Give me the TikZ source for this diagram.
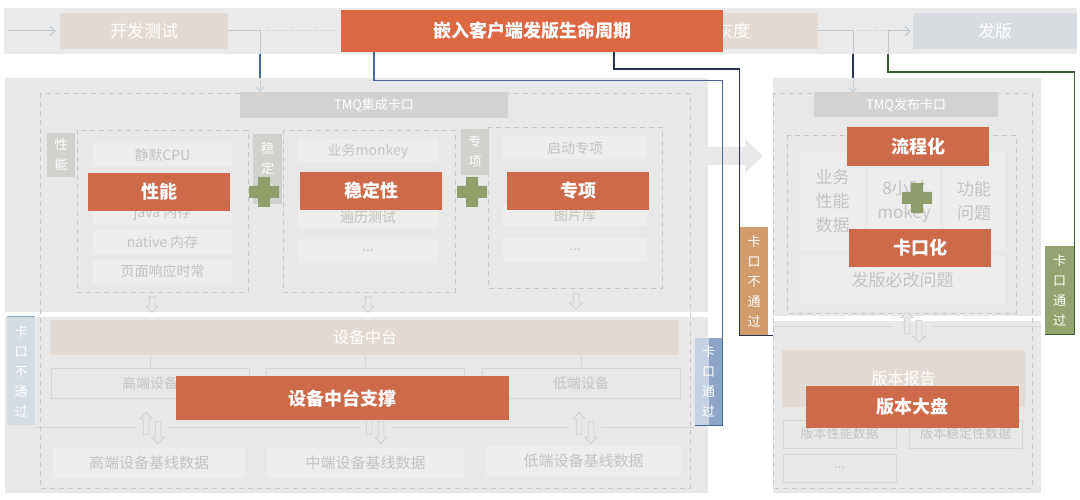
\documentclass[tikz,border=0pt]{standalone}
\usepackage{fontspec}
\setmainfont{Noto Sans CJK SC}
\usetikzlibrary{arrows.meta,shapes.arrows}
\definecolor{naranja}{RGB}{219,104,66}
\definecolor{naranjab}{RGB}{205,106,74}
\definecolor{banda}{RGB}{234,234,234}
\definecolor{panel}{RGB}{232,232,232}
\definecolor{beige}{RGB}{226,218,211}
\definecolor{azulgris}{RGB}{217,220,225}
\definecolor{etiqgris}{RGB}{210,209,206}
\definecolor{tmqgris}{RGB}{211,210,208}
\definecolor{itemgris}{RGB}{237,237,237}
\definecolor{textogris}{RGB}{196,196,196}
\definecolor{dashgris}{RGB}{200,200,200}
\definecolor{bordegris}{RGB}{214,214,214}
\definecolor{flechagris}{RGB}{205,205,205}
\definecolor{verdecruz}{RGB}{143,158,106}
\definecolor{tan}{RGB}{209,155,108}
\definecolor{verdeetiq}{RGB}{148,163,112}
\definecolor{azuletiq}{RGB}{141,165,199}
\definecolor{azulclaro}{RGB}{214,220,227}
\definecolor{azullinea}{RGB}{74,104,150}
\definecolor{marino}{RGB}{40,52,78}
\definecolor{verdelinea}{RGB}{62,92,48}
\definecolor{grislinea}{RGB}{190,198,208}

\begin{document}
\begin{tikzpicture}[x=1pt, y=-1pt,
	caja/.style={rectangle, inner sep=0pt, text=white},
	resalte/.style={caja, fill=naranjab, font=\fontsize{18}{20}\selectfont\bfseries},
	etiqueta/.style={caja, align=center, font=\fontsize{13}{20}\selectfont},
	elemento/.style={caja, fill=itemgris, text=textogris, font=\fontsize{14}{16}\selectfont, minimum height=23},
	marco/.style={draw=dashgris, dash pattern=on 5pt off 4pt, line width=0.8pt},
	flechita/.style={single arrow, draw=flechagris, fill=panel, inner sep=2.5pt, single arrow head extend=3.5pt, minimum height=16, line width=0.6pt},
	lineagris/.style={draw=grislinea, line width=1pt},
	lineaclara/.style={draw=grislinea!80!white, line width=1pt},
	lineaazul/.style={draw=azullinea, line width=1.1pt},
	lineamarino/.style={draw=marino, line width=1.3pt},
	lineaverde/.style={draw=verdelinea, line width=1.1pt},
	lineafina/.style={draw=bordegris, line width=0.8pt},
	cruz/.style={fill=verdecruz}]
		% Fondo
		\fill[white] (0,0) rectangle (1080,500);
		\useasboundingbox (0,0) rectangle (1080,500);
		
		% Banda superior
		\fill[banda] (4,8) rectangle (1077,54);
		\node[caja, fill=beige, minimum width=168, minimum height=36, font=\fontsize{17}{20}\selectfont] (kaifa) at (144,31) {开发测试};
		\node[caja, fill=beige, minimum width=170, minimum height=36, font=\fontsize{17}{20}\selectfont] (huidu) at (733,31) {灰度};
		\node[caja, fill=azulgris, minimum width=164, minimum height=36, font=\fontsize{17}{20}\selectfont] (faban) at (995,31) {发版};
		\node[caja, fill=naranja, minimum width=382, minimum height=42, font=\fontsize{18}{20}\selectfont\bfseries] (ciclo) at (532,31) {嵌入客户端发版生命周期};
		
		\coordinate (inicio) at (8,31);
		\coordinate (cA) at (260,31);
		\coordinate (cB) at (853,31);
		\coordinate (cC) at (888,31);
		\coordinate (nA) at (614,52);
		\draw[lineagris, -{Straight Barb[length=5pt,width=9pt]}, shorten >=4pt] (inicio) -- (kaifa.west);
		\draw[lineagris] (kaifa.east) -- (cA);
		\draw[lineagris, dotted] (cA) -- (ciclo.west);
		\draw[lineagris] (huidu.east) -- (cB);
		\draw[lineagris, dotted] (cB) -- (cC);
		\draw[lineagris, -{Straight Barb[length=5pt,width=9pt]}, shorten >=2pt] (cC) -- (faban.west);
		
		% Paneles
		\fill[panel] (5,78) rectangle (708,312);
		\fill[panel] (5,317) rectangle (708,493);
		\fill[panel] (773,78) rectangle (1041,316);
		\fill[panel] (773,321) rectangle (1041,493);
		\fill[panel] (708,147) -- (745,147) -- (745,139) -- (763,156) -- (745,173) -- (745,165) -- (708,165) -- cycle;
		
		% Marcos discontinuos
		\draw[marco] (40,93) rectangle (690,488);
		\draw[marco] (773,93) rectangle (1032,488);
		\draw[marco] (77,130) rectangle (248,292);
		\draw[marco] (283,130) rectangle (455,292);
		\draw[marco] (488,127) rectangle (662,288);
		\draw[marco] (787,135) rectangle (1016,313);
		
		% Cajas TMQ
		\node[caja, fill=tmqgris, minimum width=268, minimum height=26, font=\fontsize{13}{16}\selectfont] (tmqA) at (374,105) {TMQ集成卡口};
		\node[caja, fill=tmqgris, minimum width=184, minimum height=25, font=\fontsize{13}{16}\selectfont] (tmqB) at (906,105) {TMQ发布卡口};
		
		% Flechas de entrada
		\draw[lineagris] (cA) -- ++(0,23) coordinate (cA2);
		\draw[lineaazul] (cA2) -- ++(0,24) coordinate (cA3);
		\draw[lineaclara, -{Straight Barb[length=4pt,width=8pt]}] (cA3) -- (cA3 |- tmqA.north);
		\draw[lineagris] (cB) -- ++(0,23) coordinate (cB2);
		\draw[lineamarino] (cB2) -- ++(0,24) coordinate (cB3);
		\draw[lineaclara, -{Straight Barb[length=4pt,width=8pt]}] (cB3) -- (cB3 |- tmqB.north);
		\draw[lineagris] (cC) -- ++(0,23) coordinate (cC2);
		
		% Columna 1 (y=155..271)
		\node[etiqueta, fill=etiqgris, minimum width=28, minimum height=44] (lblA) at (61,155) {性\\能};
		\node[elemento, minimum width=139] (cpu) at (162.5,155) {静默CPU};
		\node[elemento, minimum width=139] (java) at (162.5,213) {java 内存};
		\node[elemento, minimum width=139] (native) at (162.5,242) {native 内存};
		\node[elemento, minimum width=139] (resp) at (162.5,271) {页面响应时常};
		
		% Columna 2
		\node[etiqueta, fill=etiqgris, minimum width=29, minimum height=70] (lblB) at (267.5,169) {稳\\定\\性};
		\node[elemento, minimum width=140] (monkey) at (368,151) {业务monkey};
		\node[elemento, minimum width=140] (bianli) at (368,217) {遍历测试};
		\node[elemento, minimum width=140] (puntosB) at (368,251) {...};
		
		% Columna 3
		\node[etiqueta, fill=etiqgris, minimum width=28, minimum height=46] (lblC) at (475,152) {专\\项};
		\node[elemento, minimum width=144] (arranque) at (575,148) {启动专项};
		\node[elemento, minimum width=144] (imagen) at (575,215) {图片库};
		\node[elemento, minimum width=144] (puntosC) at (575,250) {...};
		
		\node[flechita, shape border rotate=270] (bajaA) at (152,303) {};
		\node[flechita, shape border rotate=270] (bajaB) at (368,303) {};
		\node[flechita, shape border rotate=270] (bajaC) at (576,300) {};
		
		% Plataforma de dispositivos
		\node[caja, fill=beige, minimum width=628, minimum height=35, font=\fontsize{16}{18}\selectfont] (zhongtai) at (365,337.5) {设备中台};
		\node[caja, draw=bordegris, fill=panel, text=textogris, minimum width=198, minimum height=30, font=\fontsize{14}{16}\selectfont] (alto) at (150,383) {高端设备};
		\node[caja, draw=bordegris, fill=panel, minimum width=198, minimum height=30] (medio) at (365,383) {};
		\node[caja, draw=bordegris, fill=panel, text=textogris, minimum width=198, minimum height=30, font=\fontsize{14}{16}\selectfont] (bajo) at (581,383) {低端设备};
		\foreach \d in {alto,medio,bajo}
			\draw[lineafina] (zhongtai.south -| \d) -- (\d.north);
		
		\foreach \a/\b in {35/136,168/360,392/569,601/695}
			\draw[lineafina] (\a,427) -- (\b,427);
		\foreach \x in {152,375,585} {
			\node[flechita, minimum height=22, shape border rotate=90] (sube\x) at (\x-6,425) {};
			\node[flechita, minimum height=22, shape border rotate=270] (baja\x) at (\x+6,431) {};
		}
		
		\node[caja, fill=itemgris, text=textogris, minimum width=192, minimum height=30, font=\fontsize{15}{18}\selectfont] (baseA) at (149,463) {高端设备基线数据};
		\node[caja, fill=itemgris, text=textogris, minimum width=197, minimum height=30, font=\fontsize{15}{18}\selectfont] (baseB) at (365.5,463) {中端设备基线数据};
		\node[caja, fill=itemgris, text=textogris, minimum width=195, minimum height=30, font=\fontsize{15}{18}\selectfont] (baseC) at (583.5,461) {低端设备基线数据};
		
		\node[etiqueta, fill=azulclaro, minimum width=28, minimum height=108] (noPasaA) at (21,371) {卡\\口\\不\\通\\过};
		\draw[draw=azuletiq, line width=1pt] (noPasaA.north west) -- (noPasaA.north east);
		
		% Panel derecho
		\node[caja, fill=itemgris, text=textogris, align=center, minimum width=65, minimum height=98, font=\fontsize{17}{24}\selectfont] (datos) at (832.5,201) {业务\\性能\\数据};
		\node[caja, fill=itemgris, text=textogris, align=center, minimum width=72, minimum height=98, font=\fontsize{17}{24}\selectfont] (mokey) at (904,201) {8小时\\mokey};
		\node[caja, fill=itemgris, text=textogris, align=center, minimum width=62, minimum height=98, font=\fontsize{17}{24}\selectfont] (funcion) at (974,201) {功能\\问题};
		\node[caja, fill=itemgris, text=textogris, minimum width=205, minimum height=48, font=\fontsize{17}{20}\selectfont] (obligado) at (902.5,280) {发版必改问题};
		
		\foreach \a/\b in {773/894,932/1041}
			\draw[lineafina] (\a,326) -- (\b,326);
		\node[flechita, minimum height=22, shape border rotate=90] (subeD) at (907,324) {};
		\node[flechita, minimum height=22, shape border rotate=270] (bajaD) at (919,330) {};
		
		\node[caja, fill=beige, minimum width=243, minimum height=57, font=\fontsize{16}{18}\selectfont] (informe) at (903.5,378.5) {版本报告};
		\node[caja, draw=bordegris, fill=panel, text=textogris, minimum width=113, minimum height=28, font=\fontsize{13}{16}\selectfont] (verPerf) at (839.5,434) {版本性能数据};
		\node[caja, draw=bordegris, fill=panel, text=textogris, minimum width=113, minimum height=28, font=\fontsize{13}{16}\selectfont] (verEstab) at (965.5,434) {版本稳定性数据};
		\node[caja, draw=bordegris, fill=panel, text=textogris, minimum width=113, minimum height=28, font=\fontsize{13}{16}\selectfont] (verPuntos) at (839.5,468) {...};
		
		% Etiquetas de resultado
		\node[etiqueta, fill=azuletiq, minimum width=27, minimum height=87] (pasaA) at (708.5,381.5) {卡\\口\\通\\过};
		\fill[white, fill opacity=0.5] (pasaA.north west) rectangle (pasaA.south);
		\node[etiqueta, fill=tan, minimum width=28, minimum height=108] (noPasa) at (754,281) {卡\\口\\不\\通\\过};
		\node[etiqueta, fill=verdeetiq, minimum width=29, minimum height=88] (pasa) at (1059.5,290) {卡\\口\\通\\过};
		
		% Conectores
		\draw[lineaazul] (ciclo.south -| tmqA) -- ++(0,28) -| (pasaA.south east) -- (pasaA.south west);
		\draw[lineamarino] (nA) -- ++(0,17) -| (noPasa.south west) -- (noPasa.south east) -- ++(5,0);
		\draw[lineaverde] (cC2) -- ++(0,18) -| (pasa.south east) -- (pasa.south west);
		
		% Resaltes
		\node[resalte, minimum width=142, minimum height=38] (rend) at (159,192) {性能};
		\node[resalte, minimum width=142, minimum height=38] (estab) at (371,191) {稳定性};
		\node[resalte, minimum width=142, minimum height=38] (espec) at (578,191) {专项};
		\node[resalte, minimum width=333, minimum height=44] (soporte) at (342.5,398) {设备中台支撑};
		\node[resalte, minimum width=142, minimum height=39] (flujo) at (918,146.5) {流程化};
		\node[resalte, minimum width=142, minimum height=38] (control) at (920,248) {卡口化};
		\node[resalte, minimum width=213, minimum height=42] (tablero) at (912.5,407) {版本大盘};
		
		% Cruces
		\fill[cruz, shift={(264,192)}] (-15,-6) rectangle (15,6) (-6,-15) rectangle (6,15);
		\fill[cruz, shift={(472,192)}] (-15,-6) rectangle (15,6) (-6,-15) rectangle (6,15);
		\fill[cruz, shift={(917,198)}] (-15,-6) rectangle (15,6) (-6,-15) rectangle (6,15);
	\end{tikzpicture}
\end{document}
